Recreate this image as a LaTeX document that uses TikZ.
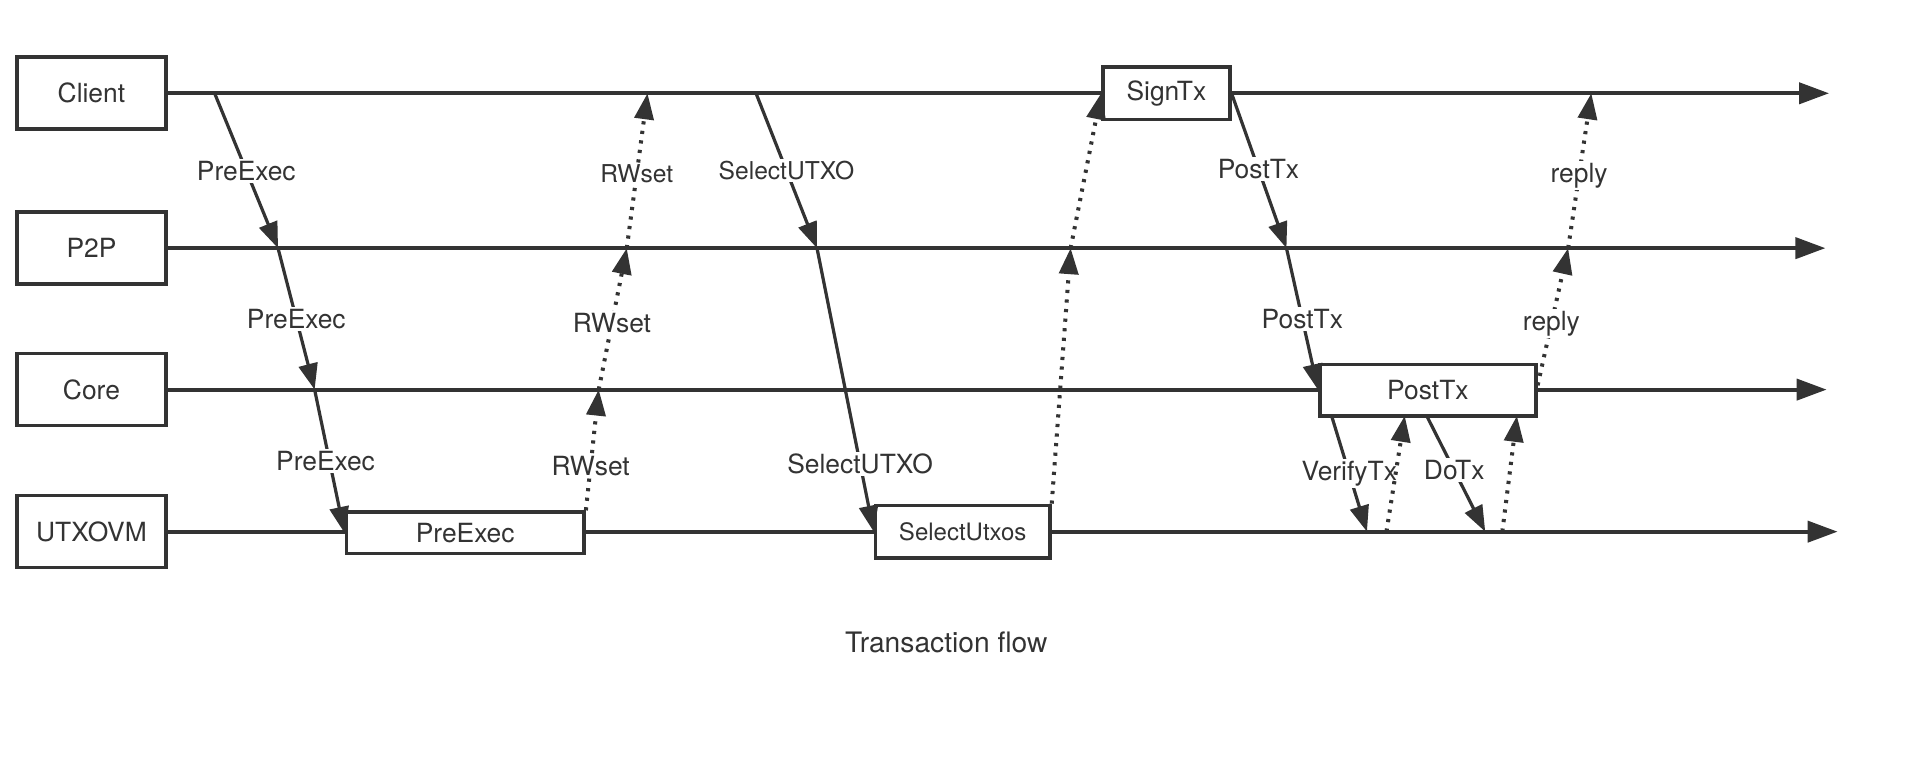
\documentclass[tikz,border=0pt]{standalone}
\usepackage{fontspec}
\setmainfont{TeX Gyre Heros}
\usetikzlibrary{arrows.meta}
\definecolor{ink}{HTML}{333333}
\begin{document}
\begin{tikzpicture}[x=0.6097pt,y=-0.6097pt,
  every node/.style={text=ink},
  actor/.style={draw=ink, line width=1.8pt, fill=white, minimum width=74.4pt, minimum height=36pt, inner sep=0pt, font=\fontsize{13.2}{15}\selectfont},
  act/.style={draw=ink, line width=1.8pt, fill=white, inner sep=0pt, font=\fontsize{13.2}{15}\selectfont},
  life/.style={draw=ink, line width=2pt, -{Triangle[length=15pt,width=10.5pt]}},
  msg/.style={draw=ink, line width=1.6pt, -{Triangle[length=13pt,width=9.5pt]}},
  ret/.style={draw=ink, line width=2pt, dash pattern=on 1.6pt off 3.2pt, -{Triangle[length=13pt,width=9.5pt]}},
  lbl/.style={fill=white, inner sep=1pt, font=\fontsize{13.2}{15}\selectfont},
  slbl/.style={fill=white, inner sep=1pt, font=\fontsize{12.3}{15}\selectfont}
]
\useasboundingbox (0,0) rectangle (1568,636);

% actors
\node[actor] (client) at (75,76.5) {Client};
\node[actor] (p2p) at (75,203.5) {P2P};
\node[actor] (core) at (75,319.5) {Core};
\node[actor] (vm) at (75,436) {UTXOVM};

% lifeline ends
\coordinate (clientEnd) at (1500,76.5);
\coordinate (p2pEnd) at (1497,203.5);
\coordinate (coreEnd) at (1498,319.5);
\coordinate (vmEnd) at (1507,436);

\draw[life] (client.east) -- (clientEnd);
\draw[life] (p2p.east) -- (p2pEnd);
\draw[life] (core.east) -- (coreEnd);
\draw[life] (vm.east) -- (vmEnd);

% activation boxes
\node[act, minimum width=118.9pt, minimum height=20.7pt] (preexec) at (381.5,437) {PreExec};
\node[act, minimum width=87.2pt, minimum height=26.2pt, font=\fontsize{12}{14}\selectfont] (selutxos) at (789.5,436) {SelectUtxos};
\node[act, minimum width=63.4pt, minimum height=26.2pt] (signtx) at (956.5,76.5) {SignTx};
\node[act, minimum width=107.9pt, minimum height=25.6pt] (posttx) at (1171,320) {PostTx};

% crossing points
\coordinate (c1) at (176,76.5);
\coordinate (p1) at (228,203.5);
\coordinate (k1) at (258,319.5);
\coordinate (k2) at (491,319.5);
\coordinate (p2) at (514,203.5);
\coordinate (c2) at (531,76.5);
\coordinate (c3) at (620,76.5);
\coordinate (p3) at (670,203.5);
\coordinate (p4) at (878,203.5);
\coordinate (p5) at (1055,203.5);
\coordinate (v1) at (1092,341);
\coordinate (u1) at (1121,436);
\coordinate (u2) at (1137,436);
\coordinate (v2) at (1152,341);
\coordinate (v3) at (1170,341);
\coordinate (u3) at (1218,436);
\coordinate (u4) at (1232,436);
\coordinate (v4) at (1244,341);
\coordinate (r0) at (1261,316);
\coordinate (p6) at (1286,203.5);
\coordinate (c6) at (1305,76.5);

% PreExec
\draw[msg] (c1) -- node[lbl] {PreExec} (p1);
\draw[msg] (p1) -- node[lbl] {PreExec} (k1);
\draw[msg] (k1) -- node[lbl, pos=0.5, xshift=-2pt] {PreExec} (preexec.west);

% RWset
\draw[ret] (preexec.north east) -- node[lbl, pos=0.37] {RWset} (k2);
\draw[ret] (k2) -- node[lbl, pos=0.47] {RWset} (p2);
\draw[ret] (p2) -- node[slbl, pos=0.48] {RWset} (c2);

% SelectUTXO
\draw[msg] (c3) -- node[slbl, pos=0.5] {SelectUTXO} (p3);
\draw[msg] (p3) -- node[lbl, pos=0.76] {SelectUTXO} (selutxos.west);

% return to client
\draw[ret] (selutxos.north east) -- (p4);
\draw[ret] (p4) -- (signtx.west);

% PostTx
\draw[msg] (signtx.east) -- node[lbl, pos=0.49] {PostTx} (p5);
\draw[msg] (p5) -- node[lbl, pos=0.5] {PostTx} (posttx.west);

% VerifyTx / DoTx
\draw[msg] (v1) -- node[lbl, pos=0.5] {VerifyTx} (u1);
\draw[ret] (u2) -- (v2);
\draw[msg] (v3) -- node[lbl, pos=0.47] {DoTx} (u3);
\draw[ret] (u4) -- (v4);

% reply
\draw[ret] (r0) -- node[lbl, pos=0.45] {reply} (p6);
\draw[ret] (p6) -- node[lbl, pos=0.47] {reply} (c6);

% caption
\node[font=\fontsize{14.1}{16}\selectfont] (caption) at (776,527) {Transaction flow};
\end{tikzpicture}
\end{document}
